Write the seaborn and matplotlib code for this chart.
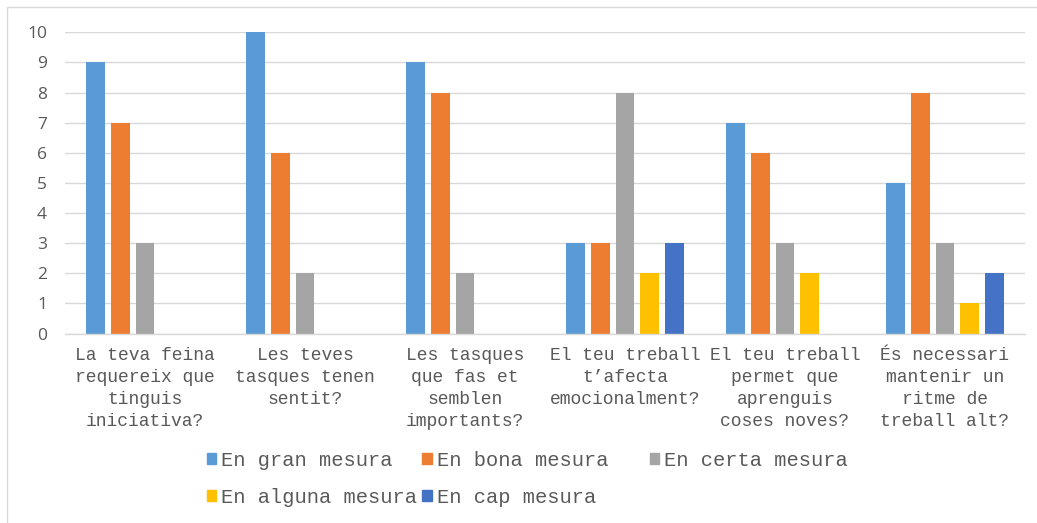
import pandas as pd
import seaborn as sns
import matplotlib.pyplot as plt
from matplotlib.patches import Rectangle, Patch

# Questions (x categories), wrapped as in the original chart
questions = [
    'La teva feina\nrequereix que\ntinguis\niniciativa?',
    'Les teves\ntasques tenen\nsentit?',
    'Les tasques\nque fas et\nsemblen\nimportants?',
    'El teu treball\nt\u2019afecta\nemocionalment?',
    'El teu treball\npermet que\naprenguis\ncoses noves?',
    '\u00c9s necessari\nmantenir un\nritme de\ntreball alt?',
]
levels = ['En gran mesura', 'En bona mesura', 'En certa mesura',
          'En alguna mesura', 'En cap mesura']

gran = [9, 10, 9, 3, 7, 5]
bona = [7, 6, 8, 3, 6, 8]
certa = [3, 2, 2, 8, 3, 3]
alguna = [0, 0, 0, 2, 2, 1]
cap = [0, 0, 0, 3, 0, 2]

colors = ['#5B9BD5', '#ED7D31', '#A5A5A5', '#FFC000', '#4472C4']

# Long format table for seaborn
rows = []
for lvl, vals in zip(levels, [gran, bona, certa, alguna, cap]):
    for q, v in zip(questions, vals):
        rows.append({'question': q, 'level': lvl, 'count': v})
df = pd.DataFrame(rows)

mono = ['Liberation Mono', 'Nimbus Mono PS', 'FreeMono', 'Courier New',
        'DejaVu Sans Mono']

sns.set_style('white')
plt.rcParams['font.family'] = mono

fig = plt.figure(figsize=(10.37, 5.23), dpi=100)
ax = fig.add_axes([65 / 1037, 0.3623, 960 / 1037, 0.5759])

sns.barplot(data=df, x='question', y='count', hue='level',
            order=questions, hue_order=levels, palette=colors,
            width=0.77, gap=0.23, linewidth=0, saturation=1,
            legend=False, ax=ax)

ax.set_ylim(0, 10)
ax.set_yticks(range(0, 11))
ax.set_xlabel('')
ax.set_ylabel('')
ax.grid(axis='y', color='#D9D9D9', linewidth=1)
ax.set_axisbelow(True)
for side in ['top', 'right', 'left']:
    ax.spines[side].set_visible(False)
ax.spines['bottom'].set_color('#D9D9D9')
ax.spines['bottom'].set_linewidth(1)

ax.tick_params(axis='x', length=0, pad=10, labelsize=13, colors='#595959')
ax.tick_params(axis='y', length=0, pad=13, colors='#595959')
for lab in ax.get_xticklabels():
    lab.set_linespacing(1.38)
for lab in ax.get_yticklabels():
    lab.set_fontfamily('Open Sans')
    lab.set_fontsize(12.5)

# Legend: three columns, filled row by row like Excel
handles = [Patch(color=c) for c in colors]
labels = list(levels)
labels[1] = labels[1] + '\u00a0\u00a0'
labels[4] = labels[4] + '\u00a0\u00a0\u00a0\u00a0'
order = [0, 3, 1, 4, 2]
fig.legend([handles[i] for i in order], [labels[i] for i in order],
           ncol=3, loc='center left', bbox_to_anchor=(207 / 1037, 1 - 479 / 523),
           frameon=False, prop={'family': mono, 'size': 14.7},
           handlelength=0.45, handleheight=0.45,
           handletextpad=0.25, columnspacing=0.25, labelspacing=0.9,
           labelcolor='#595959', borderpad=0, borderaxespad=0)

# Light chart frame
fig.patches.append(Rectangle((7 / 1037, -0.1), 1.2, 1 - 7 / 523 + 0.1,
                             transform=fig.transFigure, fill=False,
                             edgecolor='#D9D9D9', linewidth=1))

plt.savefig('out.png', dpi=100)
